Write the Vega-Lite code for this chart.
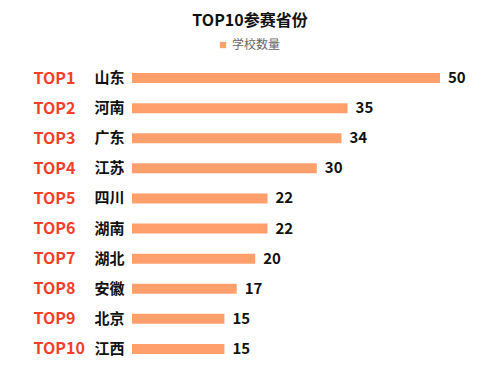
{
  "$schema": "https://vega.github.io/schema/vega-lite/v6.json",
  "width": 308,
  "height": 301,
  "autosize": "none",
  "padding": {"left": 132, "top": 63, "right": 60, "bottom": 9},
  "background": "white",
  "title": {"text": "TOP10参赛省份", "font": "Noto Sans CJK SC", "fontSize": 16, "fontWeight": "bold", "color": "#111111", "anchor": "middle", "dx": -36, "offset": 10},
  "config": {"view": {"stroke": null}},
  "data": {"values": [
    {"rank": "TOP1", "province": "山东", "count": 50},
    {"rank": "TOP2", "province": "河南", "count": 35},
    {"rank": "TOP3", "province": "广东", "count": 34},
    {"rank": "TOP4", "province": "江苏", "count": 30},
    {"rank": "TOP5", "province": "四川", "count": 22},
    {"rank": "TOP6", "province": "湖南", "count": 22},
    {"rank": "TOP7", "province": "湖北", "count": 20},
    {"rank": "TOP8", "province": "安徽", "count": 17},
    {"rank": "TOP9", "province": "北京", "count": 15},
    {"rank": "TOP10", "province": "江西", "count": 15}
  ]},
  "layer": [
    {
      "mark": {"type": "bar", "size": 10},
      "encoding": {
        "y": {"field": "province", "type": "nominal", "sort": null,
          "scale": {"paddingInner": 0.667, "paddingOuter": 0.333},
          "axis": {"orient": "left", "title": null, "domain": false, "ticks": false, "tickSize": 0, "grid": false,
            "labelPadding": 8, "labelFont": "Noto Sans CJK SC", "labelFontSize": 15, "labelFontWeight": "bold", "labelColor": "#111111"}},
        "x": {"field": "count", "type": "quantitative", "scale": {"domain": [0, 50]}, "axis": null},
        "color": {"datum": "学校数量", "type": "nominal", "scale": {"range": ["#FFA06C"]},
          "legend": {"title": null, "orient": "none", "legendX": 85, "legendY": -24, "padding": 0,
            "symbolType": "square", "symbolSize": 40, "symbolStrokeWidth": 0, "labelFont": "Noto Sans CJK SC", "labelFontSize": 12, "labelColor": "#666666", "labelOffset": 3}}
      }
    },
    {
      "mark": {"type": "text", "align": "left", "baseline": "middle", "dx": 8, "font": "Noto Sans CJK SC", "fontSize": 15, "fontWeight": "bold", "color": "#111111"},
      "encoding": {
        "y": {"field": "rank", "type": "nominal", "sort": null,
          "scale": {"paddingInner": 0.667, "paddingOuter": 0.333},
          "axis": {"orient": "left", "title": null, "domain": false, "ticks": false, "tickSize": 0, "grid": false,
            "labelPadding": 99, "labelAlign": "left", "labelFont": "Noto Sans CJK SC", "labelFontSize": 16, "labelFontWeight": "bold", "labelColor": "#F4402B"}},
        "x": {"field": "count", "type": "quantitative"},
        "text": {"field": "count", "type": "quantitative"}
      }
    }
  ],
  "resolve": {"scale": {"y": "independent"}, "axis": {"y": "independent"}}
}
